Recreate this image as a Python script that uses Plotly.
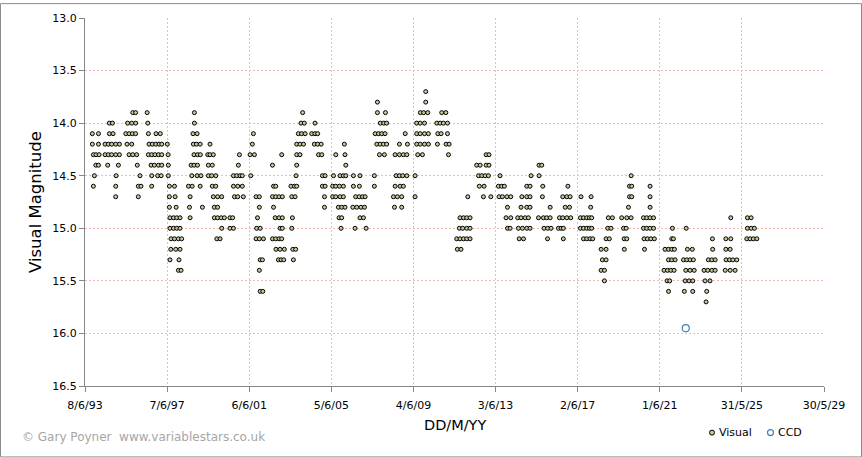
import datetime as dt
import plotly.graph_objects as go

# ---------------- data ----------------
# Visual estimates: magnitude levels and, for each level, the observation
# epochs in decimal years.
visual_mag_levels = [13.7, 13.8, 13.9, 14.0, 14.1, 14.2, 14.3, 14.4, 14.5, 14.6,
                     14.7, 14.8, 14.9, 15.0, 15.1, 15.2, 15.3, 15.4, 15.5, 15.6, 15.7]

visual_years_by_level = [
    # 13.7
    [2010.02],
    # 13.8
    [2007.67, 2010.02],
    # 13.9
    [1995.76, 1995.90, 1996.46, 1998.76, 2004.03, 2007.67, 2008.06, 2009.76, 2009.92,
     2010.12, 2010.80, 2011.00],
    # 14.0
    [1994.62, 1994.77, 1995.51, 1995.71, 1995.90, 1996.49, 1998.76, 2003.95, 2004.11,
     2004.63, 2007.81, 2007.98, 2008.12, 2009.58, 2009.75, 2009.96, 2010.56, 2010.72,
     2010.88, 2011.08],
    # 14.1
    [1993.79, 1994.09, 1994.62, 1994.80, 1995.42, 1995.58, 1995.74, 1995.90, 1996.52,
     1996.89, 1997.10, 1998.69, 1998.89, 2001.63, 2003.82, 2003.98, 2004.15, 2004.47,
     2004.63, 2004.76, 2007.56, 2007.72, 2007.88, 2008.04, 2009.02, 2009.58, 2009.75,
     2009.96, 2010.15, 2010.61, 2010.77, 2011.08],
    # 14.2
    [1993.79, 1994.09, 1994.41, 1994.57, 1994.73, 1994.93, 1995.11, 1995.48, 1995.71,
     1996.55, 1996.71, 1996.88, 1997.04, 1997.17, 1997.44, 1998.71, 1998.86, 1999.04,
     1999.52, 2001.58, 2003.74, 2003.90, 2004.07, 2004.60, 2004.76, 2004.93, 2006.06,
     2007.64, 2007.80, 2007.96, 2008.12, 2008.74, 2009.13, 2009.58, 2009.75, 2009.96,
     2010.15, 2010.59, 2011.01, 2011.16],
    # 14.3
    [1993.84, 1993.97, 1994.12, 1994.41, 1994.57, 1994.73, 1994.93, 1995.11, 1995.58,
     1995.76, 1995.95, 1996.52, 1996.68, 1996.84, 1997.01, 1997.17, 1997.48, 1998.74,
     1998.91, 1999.05, 1999.41, 1999.52, 1999.68, 2000.95, 2001.47, 2001.68, 2003.01,
     2003.74, 2003.90, 2004.80, 2004.96, 2005.64, 2006.09, 2007.77, 2008.01, 2008.53,
     2008.74, 2008.93, 2009.10, 2009.63, 2009.86, 2011.13, 2012.96, 2013.10],
    # 14.4
    [1993.96, 1994.09, 1994.54, 1995.06, 1995.98, 1996.65, 1996.81, 1997.01, 1997.17,
     1997.49, 1998.60, 1998.74, 1998.91, 1999.44, 1999.63, 2000.90, 2002.56, 2003.74,
     2006.13, 2012.50, 2012.67, 2012.96, 2013.10, 2015.54, 2015.67],
    # 14.5
    [1993.89, 1994.95, 1996.11, 1996.68, 1996.97, 1997.14, 1997.49, 1998.63, 1998.89,
     1999.08, 1999.44, 1999.60, 1999.80, 2000.66, 2000.82, 2000.98, 2001.09, 2001.50,
     2003.71, 2004.99, 2005.12, 2005.53, 2005.85, 2006.01, 2006.13, 2006.50, 2006.82,
     2007.52, 2008.58, 2008.74, 2008.90, 2009.10, 2009.50, 2012.59, 2012.75, 2012.91,
     2013.07, 2013.64, 2015.15, 2015.54, 2020.02],
    # 14.6
    [1993.84, 1994.93, 1996.03, 1996.16, 1996.68, 1997.54, 1997.79, 1998.47, 1998.65,
     1999.04, 1999.63, 1999.80, 2000.66, 2000.87, 2001.09, 2002.61, 2002.72, 2003.46,
     2003.63, 2003.74, 2004.99, 2005.12, 2005.49, 2005.64, 2005.82, 2006.01, 2006.50,
     2006.79, 2007.52, 2008.53, 2008.77, 2008.93, 2012.63, 2012.86, 2013.56, 2013.72,
     2013.85, 2014.94, 2015.10, 2015.72, 2016.94, 2019.94, 2020.05, 2020.94],
    # 14.7
    [1994.93, 1996.03, 1997.54, 1997.82, 1998.55, 1999.68, 1999.89, 2000.09, 2000.71,
     2000.87, 2001.14, 2001.76, 2001.92, 2002.56, 2002.72, 2002.88, 2003.04, 2003.50,
     2003.66, 2005.09, 2005.49, 2005.64, 2005.85, 2006.01, 2006.61, 2006.78, 2006.94,
     2007.07, 2008.45, 2008.64, 2008.85, 2009.50, 2012.07, 2012.83, 2013.19, 2013.59,
     2013.75, 2013.97, 2014.16, 2014.70, 2014.94, 2015.10, 2015.70, 2016.69, 2016.89,
     2017.05, 2017.58, 2018.07, 2019.94, 2020.05, 2020.94],
    # 14.8
    [1997.54, 1997.87, 1998.52, 1999.15, 1999.73, 1999.89, 2001.92, 2002.61, 2005.09,
     2005.77, 2005.93, 2006.09, 2006.47, 2006.66, 2006.87, 2007.04, 2008.50, 2008.85,
     2014.00, 2014.66, 2014.94, 2015.10, 2016.08, 2016.81, 2017.02, 2018.05, 2019.89,
     2020.94],
    # 14.9
    [1997.57, 1997.74, 1997.90, 1998.06, 1998.55, 1999.73, 1999.89, 2000.06, 2000.22,
     2000.49, 2000.62, 2001.83, 2002.69, 2002.88, 2003.04, 2003.53, 2005.80, 2005.93,
     2006.82, 2006.99, 2011.69, 2011.86, 2012.02, 2012.18, 2013.93, 2014.16, 2014.50,
     2014.66, 2014.86, 2015.02, 2015.51, 2015.75, 2015.91, 2016.08, 2016.53, 2016.69,
     2016.89, 2017.08, 2017.55, 2017.70, 2017.86, 2017.99, 2018.10, 2018.91, 2019.11,
     2019.56, 2019.81, 2020.02, 2020.62, 2020.78, 2020.94, 2021.11, 2024.87, 2025.68,
     2025.86],
    # 15.0
    [1997.57, 1997.74, 1997.90, 1998.06, 2000.09, 2000.49, 2000.66, 2001.79, 2001.96,
     2002.93, 2003.04, 2003.50, 2005.90, 2006.58, 2007.12, 2011.66, 2011.82, 2012.02,
     2012.18, 2014.00, 2014.13, 2014.53, 2014.73, 2014.94, 2015.10, 2015.78, 2015.96,
     2016.12, 2016.48, 2016.61, 2016.72, 2017.55, 2017.70, 2017.86, 2017.99, 2018.10,
     2018.88, 2019.04, 2019.65, 2019.78, 2020.62, 2020.78, 2020.94, 2021.11, 2022.03,
     2022.70, 2025.68, 2025.86, 2026.02],
    # 15.1
    [1997.62, 1997.79, 1997.98, 1998.14, 1999.85, 2000.01, 2001.76, 2001.92, 2002.12,
     2002.56, 2002.72, 2002.88, 2003.01, 2011.53, 2011.69, 2011.86, 2012.02, 2012.18,
     2014.57, 2014.78, 2015.95, 2016.72, 2017.70, 2017.86, 2018.02, 2018.15, 2018.80,
     2018.96, 2019.68, 2019.81, 2020.65, 2020.81, 2020.98, 2021.15, 2022.00, 2022.08,
     2023.98, 2024.63, 2024.87, 2025.65, 2025.81, 2025.97, 2026.14],
    # 15.2
    [1997.61, 1997.85, 1998.06, 2002.73, 2002.93, 2003.14, 2003.55, 2003.69, 2011.56,
     2011.74, 2018.56, 2018.80, 2019.69, 2020.67, 2021.67, 2021.84, 2022.00, 2022.13,
     2022.76, 2023.00, 2023.99, 2024.63, 2024.84],
    # 15.3
    [1997.57, 1998.01, 2001.96, 2002.07, 2002.85, 2002.98, 2003.11, 2003.58, 2018.62,
     2018.80, 2021.84, 2022.00, 2022.16, 2022.57, 2022.73, 2022.89, 2023.05, 2023.78,
     2023.95, 2024.11, 2024.64, 2024.81, 2024.97, 2025.16],
    # 15.4
    [1997.98, 1998.11, 2001.92, 2018.56, 2018.72, 2021.62, 2021.79, 2021.95, 2022.11,
     2022.68, 2022.89, 2023.09, 2023.57, 2023.75, 2023.95, 2024.11, 2024.60, 2024.84,
     2025.08],
    # 15.5
    [2018.72, 2021.77, 2021.90, 2022.65, 2022.84, 2023.02, 2023.62, 2023.86],
    # 15.6
    [2001.96, 2002.09, 2021.84, 2022.61, 2023.02, 2023.70],
    # 15.7
    [2023.67],
]

# CCD measurement
ccd_years = [2022.68]
ccd_mags = [15.95]

# Axis ticks
x_tick_dates = ["1993-06-08", "1997-06-07", "2001-06-06", "2005-06-05", "2009-06-04",
                "2013-06-03", "2017-06-02", "2021-06-01", "2025-05-31", "2029-05-30"]
x_tick_labels = ["8/6/93", "7/6/97", "6/6/01", "5/6/05", "4/6/09",
                 "3/6/13", "2/6/17", "1/6/21", "31/5/25", "30/5/29"]
y_ticks = [13.0, 13.5, 14.0, 14.5, 15.0, 15.5, 16.0, 16.5]


def to_date(y):
    yr = int(y)
    start = dt.datetime(yr, 1, 1)
    end = dt.datetime(yr + 1, 1, 1)
    return start + (end - start) * (y - yr)


vis_x, vis_y = [], []
for mag, years in zip(visual_mag_levels, visual_years_by_level):
    for yv in years:
        vis_x.append(to_date(yv))
        vis_y.append(mag)

ccd_x = [to_date(v) for v in ccd_years]

# ---------------- figure ----------------
W, H = 862, 458
L, R, T, B = 85, 38, 15, 72
PW, PH = W - L - R, H - T - B


def px(xp):
    return (xp - L) / PW


def py(yp):
    return (H - B - yp) / PH


fig = go.Figure()
fig.add_trace(go.Scatter(
    x=vis_x, y=vis_y, mode="markers", name="Visual",
    marker=dict(symbol="circle", size=4, color="#c5c89a",
                line=dict(color="#000000", width=1)),
))
fig.add_trace(go.Scatter(
    x=ccd_x, y=ccd_mags, mode="markers", name="CCD",
    marker=dict(symbol="circle-open", size=7, color="#4a7ebb",
                line=dict(color="#4a7ebb", width=1.2)),
))

tick_font = dict(family="DejaVu Sans, Verdana, sans-serif", size=11, color="#000000")
GRID = "#f6b6b6"

fig.update_layout(
    width=W, height=H,
    margin=dict(l=L, r=R, t=T, b=B, pad=0),
    paper_bgcolor="white", plot_bgcolor="white",
    showlegend=False,
    xaxis=dict(
        type="date",
        range=[x_tick_dates[0], x_tick_dates[-1]],
        tickvals=x_tick_dates, ticktext=x_tick_labels,
        ticks="outside", ticklen=5, tickcolor="#868686", tickwidth=1,
        showline=True, linecolor="#868686", linewidth=1,
        showgrid=True, gridcolor=GRID, griddash="2px,2px", gridwidth=1,
        zeroline=False, tickfont=tick_font, tickangle=0,
        ticklabelstandoff=4,
    ),
    yaxis=dict(
        range=[16.5, 13.0],
        tickvals=y_ticks, ticktext=[f"{v:.1f}" for v in y_ticks],
        ticks="outside", ticklen=5, tickcolor="#868686", tickwidth=1,
        showline=True, linecolor="#868686", linewidth=1,
        showgrid=True, gridcolor=GRID, griddash="2px,2px", gridwidth=1,
        zeroline=False, tickfont=tick_font,
    ),
)

annotations = [
    dict(text="Visual Magnitude", xref="paper", yref="paper", x=px(35), y=0.5,
         xanchor="center", yanchor="middle", textangle=-90, showarrow=False,
         font=dict(family="DejaVu Sans, Verdana, sans-serif", size=16.5, color="#000000")),
    dict(text="DD/M/YY", xref="paper", yref="paper", x=0.5, y=py(425),
         xanchor="center", yanchor="middle", showarrow=False,
         font=dict(family="DejaVu Sans, Verdana, sans-serif", size=14.5, color="#000000")),
    dict(text="\u00a9 Gary Poyner  www.variablestars.co.uk", xref="paper", yref="paper",
         x=px(20), y=py(437), xanchor="left", yanchor="middle", showarrow=False,
         font=dict(family="DejaVu Sans, Verdana, sans-serif", size=12, color="#a6a6a6")),
    dict(text="Visual", xref="paper", yref="paper", x=px(717), y=py(433),
         xanchor="left", yanchor="middle", showarrow=False,
         font=dict(family="DejaVu Sans, Verdana, sans-serif", size=11, color="#000000")),
    dict(text="CCD", xref="paper", yref="paper", x=px(776), y=py(433),
         xanchor="left", yanchor="middle", showarrow=False,
         font=dict(family="DejaVu Sans, Verdana, sans-serif", size=11, color="#000000")),
]
fig.update_layout(annotations=annotations)

shapes = [
    # chart-area border
    dict(type="rect", xref="paper", yref="paper",
         x0=px(0.5), x1=px(861.5), y0=py(457.5), y1=py(0.5),
         line=dict(color="#8c8c8c", width=1), fillcolor="rgba(0,0,0,0)", layer="above"),
    # legend symbols
    dict(type="circle", xref="paper", yref="paper", xsizemode="pixel", ysizemode="pixel",
         xanchor=px(712), yanchor=py(433), x0=-2.5, x1=2.5, y0=-2.5, y1=2.5,
         line=dict(color="#000000", width=1), fillcolor="#c5c89a"),
    dict(type="circle", xref="paper", yref="paper", xsizemode="pixel", ysizemode="pixel",
         xanchor=px(770.5), yanchor=py(433), x0=-3, x1=3, y0=-3, y1=3,
         line=dict(color="#4a7ebb", width=1.2), fillcolor="rgba(0,0,0,0)"),
]
fig.update_layout(shapes=shapes)

fig.write_html(
    "out.html",
    config={"displayModeBar": False},
    post_script="document.body.style.margin='0px';document.body.style.overflow='hidden';",
)
